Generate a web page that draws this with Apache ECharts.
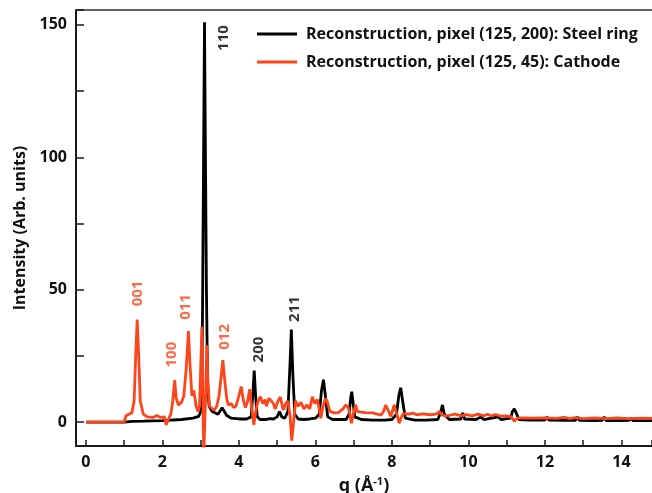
<!DOCTYPE html>
<html><head><meta charset="utf-8">
<script src="https://cdn.jsdelivr.net/npm/echarts@6/dist/echarts.min.js"></script>
<style>html,body{margin:0;padding:0;background:#fff}#c{width:652px;height:493px}</style>
</head><body><div id="c"></div>
<script>
// ---- data ----
const seriesNames = ['Reconstruction, pixel (125, 200): Steel ring', 'Reconstruction, pixel (125, 45): Cathode'];
const steel = [
 [0,0],[1.0,0],[1.2,0.3],[1.5,0.4],[2.0,0.6],[2.5,1.0],[2.8,1.5],[2.95,2.2],[3.0,4],[3.03,12],[3.05,45],[3.08,110],[3.10,151],[3.12,110],[3.15,50],[3.18,15],[3.22,6],[3.3,4],
 [3.45,3],[3.52,4.5],[3.56,5.5],[3.6,4.5],[3.68,2.5],[3.8,1.5],[4.0,1.2],[4.2,1.2],[4.32,2],[4.36,10],[4.40,19.5],[4.44,9],[4.48,2],[4.55,1],[4.7,1],[4.8,1.3],[4.9,1.2],
 [5.0,2],[5.06,4],[5.12,2],[5.2,1.5],[5.28,4],[5.33,20],[5.37,35],[5.41,18],[5.46,3],[5.55,1.2],[5.7,1],[5.85,1.2],[6.0,1.5],[6.1,3],[6.16,12],[6.21,16],[6.26,10],[6.32,2],
 [6.45,1],[6.6,1],[6.8,1],[6.88,3],[6.92,9],[6.95,11.5],[6.98,8],[7.03,2],[7.2,1],[7.5,0.8],[7.8,0.8],[8.0,1],[8.12,3],[8.18,10],[8.23,13],[8.28,8],[8.35,1.5],[8.6,0.8],
 [8.9,0.8],[9.2,1],[9.27,3.5],[9.32,6.5],[9.37,3],[9.5,1],[9.8,1.2],[9.85,3.5],[9.9,1.2],[10.2,1],[10.33,2],[10.4,1],[10.78,2],[10.85,1],[11.1,1.5],[11.15,4],[11.2,5],
 [11.25,3.5],[11.32,1],[11.6,0.8],[12.0,0.8],[12.05,2],[12.1,0.8],[12.5,0.7],[12.8,0.7],[12.85,2],[12.9,0.7],[13.3,0.6],[13.5,0.7],[13.55,2],[13.6,0.6],[14.0,0.6],
 [14.2,0.7],[14.25,1.5],[14.3,0.6],[14.8,0.6]
];
const cathode = [
 [0,0],[1.0,0],[1.05,2.5],[1.12,3],[1.2,3.5],[1.26,8],[1.3,25],[1.34,38.7],[1.38,25],[1.42,8],[1.5,3],[1.6,2],[1.75,1.8],[1.85,2.5],[1.9,2.8],[1.95,1.8],[2.0,2.5],[2.05,2],
 [2.1,-1],[2.15,1],[2.22,3],[2.27,8],[2.32,15.9],[2.36,9],[2.42,6.5],[2.5,7.5],[2.56,10],[2.62,20],[2.68,34.4],[2.72,22],[2.77,10],[2.82,12],[2.88,6],[2.93,4],[2.97,6],
 [3.01,25],[3.03,36],[3.05,15],[3.08,-12],[3.11,-12],[3.13,10],[3.16,29],[3.19,15],[3.23,6],[3.28,5.5],[3.35,4.5],[3.42,6],[3.48,10],[3.54,18],[3.58,23.4],[3.62,17],
 [3.68,9],[3.72,6.5],[3.8,7],[3.86,5.5],[3.92,6],[3.98,9],[4.06,13.4],[4.12,8],[4.17,5.5],[4.23,8],[4.28,12.4],[4.33,6],[4.39,-1],[4.44,4],[4.5,8],[4.56,9.6],[4.62,7],
 [4.68,8.5],[4.72,6],[4.78,9],[4.85,8],[4.9,7],[4.95,5],[5.02,8],[5.08,9.5],[5.16,4.6],[5.22,7],[5.28,8],[5.34,2],[5.38,-7],[5.43,0],[5.48,8],[5.55,6],[5.62,7.5],[5.7,5],
 [5.78,6.5],[5.85,5],[5.92,9.6],[5.98,7],[6.05,8.5],[6.1,5],[6.14,1.5],[6.2,6],[6.26,9],[6.31,7.7],[6.38,4],[6.5,3.5],[6.6,3.6],[6.72,5],[6.79,6.5],[6.86,5.5],[6.9,3],
 [6.94,-0.4],[6.99,3],[7.05,6.5],[7.1,4],[7.3,3.6],[7.5,3.5],[7.62,3],[7.72,2.7],[7.78,4],[7.84,6.5],[7.9,4.5],[7.97,2.2],[8.02,4.5],[8.06,6.5],[8.12,3.5],[8.19,-0.4],
 [8.25,2],[8.3,3.2],[8.45,3],[8.55,3.4],[8.65,2.8],[8.8,3.1],[9.0,2.8],[9.15,3],[9.24,4],[9.3,2.8],[9.38,2.4],[9.5,2.6],[9.65,3],[9.8,2.4],[9.95,2.8],[10.1,2.4],[10.25,3],
 [10.4,2.4],[10.5,3],[10.6,2.3],[10.7,2.9],[10.85,2.3],[11.0,2.4],[11.12,2],[11.2,0.4],[11.28,1.5],[11.4,1.6],[11.7,1.5],[12.0,1.6],[12.3,1.4],[12.5,1.8],[12.65,1.3],
 [12.8,1.7],[13.0,1.3],[13.3,1.6],[13.6,1.3],[13.9,1.6],[14.2,1.3],[14.5,1.5],[14.8,1.4]
];
const peakNames = ['110','200','211','001','100','011','012'];
const peakQ     = [3.61, 4.51, 5.45, 1.36, 2.23, 2.60, 3.64];
const peakI     = [145, 27.4, 42.7, 48.6, 25.5, 43.5, 32.2];
const peakOwner = [0,0,0,1,1,1,1];
const xTickStep = 1;
const xLabels = [0,2,4,6,8,10,12,14];
const yTickStep = 25;
const yLabels = [0,50,100,150];

// ---- chart ----
const colors = ['#000000', '#ff4419'];
const FONT = 'Open Sans';
const xMin = -0.26, xMax = 14.8, yMin = -9, yMax = 155.6;
const chart = echarts.init(document.getElementById('c'), null, {renderer: 'canvas'});
const axisLineStyle = {color: '#1a1a1a', width: 2};
const tickStyle = {color: '#1a1a1a', width: 1.5};
chart.setOption({
  animation: false,
  textStyle: {fontFamily: FONT},
  grid: {left: 76, top: 10, right: 0, bottom: 47, containLabel: false, outerBoundsMode: 'none'},
  legend: {
    data: seriesNames, orient: 'vertical', left: 252, top: 21, itemWidth: 40, itemHeight: 3, itemGap: 12,
    icon: 'rect',
    textStyle: {fontFamily: FONT, fontWeight: 'bold', fontSize: 16, color: '#111', padding: [0,0,0,4]}
  },
  xAxis: [{
    type: 'value', min: xMin, max: xMax, minInterval: xTickStep, maxInterval: xTickStep,
    name: '{a|q (Å}{s|-1}{a|)}', nameLocation: 'middle', nameGap: 30,
    nameTextStyle: {rich: {
      a: {fontFamily: FONT, fontWeight: 'bold', fontSize: 18, color: '#111'},
      s: {fontFamily: FONT, fontWeight: 'bold', fontSize: 11, color: '#111', padding: [0,0,9,0]}
    }},
    axisLine: {show: true, onZero: false, lineStyle: axisLineStyle},
    axisTick: {show: true, inside: true, length: 6, lineStyle: tickStyle},
    axisLabel: {margin: 8, showMinLabel: true, showMaxLabel: true, fontFamily: FONT, fontWeight: 'bold', fontSize: 16, color: '#111',
      formatter: v => (xLabels.includes(Math.round(v * 1000) / 1000) ? String(Math.round(v)) : '')},
    splitLine: {show: false}
  }, {
    type: 'value', position: 'top', min: xMin, max: xMax,
    axisLine: {show: true, onZero: false, lineStyle: {color: '#333', width: 1.5}},
    axisTick: {show: false}, axisLabel: {show: false}, splitLine: {show: false}
  }],
  yAxis: {
    type: 'value', min: yMin, max: yMax, minInterval: yTickStep, maxInterval: yTickStep,
    name: 'Intensity (Arb. units)', nameLocation: 'middle', nameGap: 44,
    nameTextStyle: {fontFamily: FONT, fontWeight: 'bold', fontSize: 16, color: '#111'},
    axisLine: {show: true, onZero: false, lineStyle: axisLineStyle},
    axisTick: {show: true, inside: true, length: 8, lineStyle: tickStyle},
    axisLabel: {margin: 9, fontFamily: FONT, fontWeight: 'bold', fontSize: 16, color: '#111',
      formatter: v => (yLabels.includes(Math.round(v * 1000) / 1000) ? String(Math.round(v)) : '')},
    splitLine: {show: false}
  },
  series: [
    {name: seriesNames[0], type: 'line', data: steel, symbol: 'none', color: colors[0], lineStyle: {width: 2.8, color: colors[0]}, z: 2},
    {name: seriesNames[1], type: 'line', data: cathode, symbol: 'none', color: colors[1], lineStyle: {width: 2.8, color: colors[1]}, z: 3},
    {
      type: 'scatter', symbolSize: 0, z: 5, silent: true,
      data: peakNames.map((n, i) => ({
        name: n, value: [peakQ[i], peakI[i]],
        label: {color: colors[peakOwner[i]]}
      })),
      label: {show: true, formatter: '{b}', rotate: 90, position: [0, 0], align: 'center', verticalAlign: 'middle',
              fontFamily: FONT, fontWeight: 'bold', fontSize: 15}
    }
  ]
});
</script></body></html>
